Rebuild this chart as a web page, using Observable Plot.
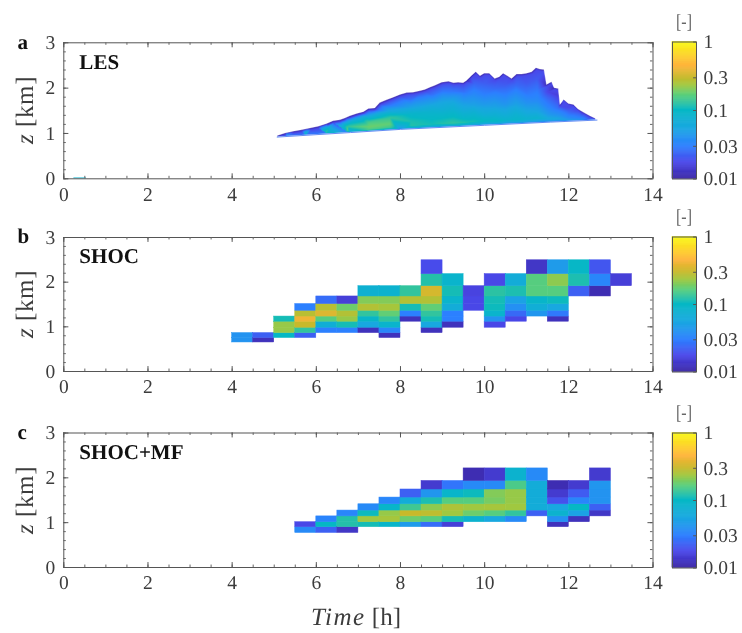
<!DOCTYPE html>
<html><head><meta charset="utf-8">
<script src="https://cdn.jsdelivr.net/npm/d3@7"></script>
<script src="https://cdn.jsdelivr.net/npm/@observablehq/plot@0.6"></script>
<style>
html,body{margin:0;padding:0;background:#fff}
#chart{position:relative;width:742px;height:633px;overflow:hidden;font-family:"Liberation Serif",serif;color:#3c3c3c;text-rendering:geometricPrecision;filter:blur(0.35px)}
#chart svg{position:absolute;left:0;overflow:visible;text-rendering:geometricPrecision}
.lab{position:absolute;white-space:nowrap;line-height:1}
</style></head><body><div id="chart"></div>
<script>
// colour map (value -> colour)
const colorValues=[0.01,0.0174,0.03,0.055,0.1,0.166,0.23,0.3,0.45,1];
const colorHex=["#3b27a6","#4a48ea","#2c80ff","#18a8e0","#05b8c4","#5ccf7a","#a0c840","#c8b92a","#ffb43a","#f9fb15"];
const barTicks=[1,0.3,0.1,0.03,0.01];
const xMajor=[0,2,4,6,8,10,12,14];
const yMajor=[0,1,2,3];
const xMinor=d3.range(0,14.01,0.5);
const yMinor=d3.range(0,3.01,0.2);

// panel a: LES cloud envelope (time h, top km), base, and in-cloud profiles
const lesTopT=[5.07,5.27,5.46,5.66,5.86,6.06,6.26,6.41,6.57,6.69,6.81,6.97,7.13,7.25,7.40,7.52,7.68,7.84,8.0,8.16,8.31,8.47,8.59,8.71,8.83,8.99,9.15,9.27,9.38,9.50,9.58,9.70,9.80,9.90,10.0,10.12,10.25,10.36,10.45,10.55,10.65,10.77,10.89,11.01,11.13,11.23,11.32,11.42,11.48,11.60,11.66,11.76,11.80,11.89,12.0,12.12,12.23,12.35,12.51,12.67];
const lesTopZ=[0.94,1.00,1.04,1.07,1.11,1.15,1.21,1.27,1.29,1.33,1.38,1.43,1.47,1.54,1.55,1.67,1.73,1.79,1.85,1.89,1.90,1.93,1.96,2.01,2.05,2.12,2.14,2.11,2.12,2.11,2.16,2.27,2.35,2.26,2.32,2.32,2.20,2.24,2.32,2.26,2.20,2.30,2.30,2.32,2.35,2.44,2.41,2.40,2.07,2.13,2.00,1.98,1.63,1.74,1.65,1.63,1.53,1.46,1.38,1.31];
const lesBaseT=[5.07,6.81,8.0,10.0,11.56,12.67];
const lesBaseZ=[0.92,1.02,1.09,1.18,1.25,1.295];
const profT=[5.3,5.75,6.25,6.75,7.25,7.75,8.25,8.75,9.0,9.25,9.5,9.75,10.0,10.25,10.5,10.75,11.0,11.25,11.5,11.75,12.0,12.3,12.6];
const profF=[0.08,0.2,0.4,0.6,0.8];
const profV=[
 [.035,.04,.04,.035,.03],[.07,.08,.07,.055,.035],[.10,.13,.11,.07,.04],[.13,.16,.13,.08,.04],
 [.15,.18,.15,.075,.035],[.14,.17,.13,.06,.028],[.12,.115,.09,.05,.027],[.11,.10,.08,.05,.027],
 [.12,.10,.07,.05,.028],[.13,.105,.075,.052,.028],[.12,.09,.06,.042,.026],[.11,.085,.05,.035,.024],
 [.10,.07,.045,.03,.022],[.10,.075,.05,.036,.024],[.085,.065,.042,.03,.021],[.09,.075,.05,.036,.024],
 [.08,.06,.04,.028,.021],[.08,.055,.036,.028,.021],[.06,.045,.032,.025,.017],[.055,.04,.026,.02,.015],
 [.045,.036,.028,.022,.017],[.04,.035,.028,.022,.017],[.03,.028,.022,.019,.015]];

// panel b: SHOC. Column start time, first row, values upward
const shocLevels=[0.65,0.75,0.86,0.98,1.115,1.23,1.36,1.51,1.68,1.91,2.18,2.49];
const shocCols=[
 [4,0,[.04,.04]],[4.5,0,[.012,.022]],[5,1,[.1,.22,.22,.11]],
 [5.5,1,[.022,.13,.3,.4,.27,.03]],[6,2,[.03,.07,.16,.35,.27,.025]],
 [6.5,2,[.03,.11,.22,.26,.18,.015]],[7,2,[.012,.055,.09,.13,.26,.2,.075]],
 [7.5,1,[.012,.033,.085,.13,.17,.24,.2,.08]],[8,4,[.012,.03,.11,.26,.13]],
 [8.5,2,[.012,.055,.11,.13,.17,.26,.33,.12,.018]],[9,3,[.012,.03,.03,.065,.085,.11,.085]],
 [9.5,6,[.017,.017,.016]],[10,3,[.017,.04,.085,.105,.11,.125,.017]],
 [10.5,4,[.017,.024,.038,.05,.115,.065]],[11,5,[.042,.068,.09,.16,.16,.013]],
 [11.5,4,[.012,.028,.055,.105,.16,.21,.045]],[12,8,[.022,.115,.095]],
 [12.5,8,[.011,.033,.02]],[13,9,[.015]]];

// panel c: SHOC+MF
const mfLevels=[0.77,0.90,1.01,1.14,1.27,1.41,1.56,1.74,1.93,2.21];
const mfCols=[
 [5.5,0,[.035,.017]],[6,0,[.022,.1,.032]],[6.5,0,[.013,.12,.12,.033]],
 [7,1,[.11,.23,.105,.035]],[7.5,1,[.09,.24,.22,.09,.033]],
 [8,1,[.045,.18,.3,.14,.065,.022]],[8.5,1,[.025,.16,.28,.21,.115,.042,.014]],
 [9,1,[.015,.11,.23,.25,.16,.088,.027]],[9.5,2,[.08,.18,.23,.16,.105,.035,.011]],
 [10,2,[.055,.16,.24,.19,.2,.035,.014]],[10.5,2,[.035,.13,.23,.22,.22,.15,.08]],
 [11,3,[.022,.065,.065,.065,.065,.035]],[11.5,1,[.012,.038,.08,.055,.019,.014,.011]],
 [12,2,[.012,.05,.1,.033,.021,.014]],[12.5,3,[.013,.022,.04,.04,.042,.014]]];

const root=document.getElementById("chart");
const FONT='"Liberation Serif",serif', INK="#3c3c3c";
const colorScale={type:"log",domain:colorValues,range:colorHex,clamp:true};

function cells(cols,levels){
  const out=[];
  for(const [t,r0,vals] of cols) vals.forEach((v,i)=>out.push({t,z1:levels[r0+i],z2:levels[r0+i+1],v}));
  return out;
}
function lesMarks(){
  const baseAt=d3.scaleLinear(lesBaseT,lesBaseZ), topAt=d3.scaleLinear(lesTopT,lesTopZ);
  const s=[];
  lesTopT.forEach((t,i)=>{s.push({t,z:lesTopZ[i],v:0.011});s.push({t,z:lesTopZ[i]-0.035,v:0.018});});
  lesBaseT.forEach((t,i)=>s.push({t,z:lesBaseZ[i]-0.01,v:0.03}));
  profT.forEach((t,i)=>{const b=baseAt(t),h=topAt(t)-b;
    s.push({t,z:b,v:0.03});
    profF.forEach((f,j)=>s.push({t,z:b+f*h,v:profV[i][j]}));});
  const top=lesTopT.map((t,i)=>({t,z:lesTopZ[i]}));
  const base=lesBaseT.map((t,i)=>({t,z:lesBaseZ[i]}));
  return [
    Plot.raster(s,{x:"t",y:"z",fill:"v",interpolate:"barycentric",pixelSize:1,x1:lesTopT[0],x2:lesTopT[lesTopT.length-1]-0.04,y1:0.85,y2:2.55}),
    Plot.areaY(top,{x:"t",y1:"z",y2:3,fill:"white",stroke:"white",strokeWidth:0.3}),
    Plot.areaY(base,{x:"t",y1:0,y2:"z",fill:"white"}),
    Plot.line(base,{x:"t",y:"z",stroke:"#3f70f0",strokeWidth:1,strokeOpacity:0.8}),
    Plot.rect([{a:.24,b:.54,v:.08}],{x1:"a",x2:"b",y1:0,y2:.018,fill:"v"})
  ];
}
function panel(top,bottom,marks,name,letter){
  const svgTop=Math.floor(top)-24, h=Math.ceil(bottom)+34-svgTop;
  const p=Plot.plot({
    width:680,height:h,marginLeft:63.3,marginRight:27.5,marginTop:top-svgTop,marginBottom:h-(bottom-svgTop),
    style:{background:"transparent",fontFamily:FONT,overflow:"visible"},
    x:{domain:[0,14]},y:{domain:[0,3]},color:colorScale,
    marks:[
      ...marks,
      Plot.frame({stroke:"#555",strokeWidth:1}),
      Plot.ruleX(xMinor,{x:d=>d,y1:0,y2:.055,stroke:"#666"}),
      Plot.ruleX(xMinor,{x:d=>d,y1:2.945,y2:3,stroke:"#666"}),
      Plot.ruleX(xMajor,{x:d=>d,y1:0,y2:.11,stroke:"#555"}),
      Plot.ruleX(xMajor,{x:d=>d,y1:2.89,y2:3,stroke:"#555"}),
      Plot.ruleY(yMinor,{y:d=>d,x1:0,x2:.06,stroke:"#666"}),
      Plot.ruleY(yMinor,{y:d=>d,x1:13.94,x2:14,stroke:"#666"}),
      Plot.ruleY(yMajor,{y:d=>d,x1:0,x2:.12,stroke:"#555"}),
      Plot.ruleY(yMajor,{y:d=>d,x1:13.88,x2:14,stroke:"#555"}),
      Plot.axisX({ticks:xMajor,tickSize:0,tickPadding:8,fontSize:19.5,label:null,fill:INK,tickFormat:d=>String(d)}),
      Plot.axisY({ticks:yMajor,tickSize:0,tickPadding:8.5,fontSize:19.5,label:null,fill:INK,tickFormat:d=>String(d)}),
      Plot.text([name],{x:0.37,y:2.58,text:d=>d,textAnchor:"start",fontSize:21,fontWeight:"bold",fill:"#111"}),
      Plot.text([letter],{x:-1.1,y:3.02,text:d=>d,textAnchor:"start",fontSize:21,fontWeight:"bold",fill:"#111"})
    ]});
  p.style.top=svgTop+"px"; root.append(p);

  const barT=Math.round(top)-0.5, barB=Math.round(bottom)+0.5;
  const bh=Math.ceil(barB)+16-(Math.floor(barT)-16), bt=Math.floor(barT)-16;
  const levels=d3.range(0,129).map(i=>0.01*Math.pow(100,i/128));
  const bar=Plot.plot({
    width:102,height:bh,marginLeft:32,marginRight:46,marginTop:barT-bt,marginBottom:bh-(barB-bt),
    style:{background:"transparent",fontFamily:FONT,overflow:"visible"},
    x:{domain:[0,1],axis:null},y:{type:"log",domain:[0.01,1]},color:colorScale,
    marks:[
      Plot.rect(levels.slice(0,-1),{x1:0,x2:1,y1:d=>d,y2:(d,i)=>levels[i+1],fill:d=>d,stroke:d=>d,strokeWidth:0.6}),
      Plot.frame({stroke:"#555",strokeWidth:1}),
      Plot.ruleY(barTicks,{y:d=>d,x1:.88,x2:1,stroke:"#555"}),
      Plot.axisY({anchor:"right",ticks:barTicks,tickSize:0,tickPadding:7,fontSize:19.5,label:null,fill:INK,tickFormat:d=>String(d)})
    ]});
  bar.style.left="640px"; bar.style.top=bt+"px"; root.append(bar);

  const un=document.createElement("div");un.className="lab";un.textContent="[-]";
  un.style.cssText+=`left:684px;top:${top-30}px;font-size:20px;transform:translateX(-50%) scaleX(.8);color:#666`;
  root.append(un);

  const yl=document.createElement("div");yl.className="lab";yl.innerHTML="<i>z</i> [km]";
  yl.style.cssText+=`left:25px;top:${(top+bottom)/2}px;font-size:25px;letter-spacing:.6px;transform:translate(-50%,-50%) rotate(-90deg)`;
  root.append(yl);
}
panel(42.3,178.3,lesMarks(),"LES","a");
const cellMarks=(c,l)=>[Plot.rect(cells(c,l),{x1:"t",x2:d=>d.t+.5,y1:"z1",y2:"z2",fill:"v",stroke:"v",strokeWidth:0.5})];
panel(237,371,cellMarks(shocCols,shocLevels),"SHOC","b");
panel(432.5,567,cellMarks(mfCols,mfLevels),"SHOC+MF","c");
const xl=document.createElement("div");xl.className="lab";xl.innerHTML='<i style="letter-spacing:1.5px">Time</i> [h]';
xl.style.cssText+="left:356px;top:605px;font-size:25px;transform:translateX(-50%)";
root.append(xl);
</script></body></html>
